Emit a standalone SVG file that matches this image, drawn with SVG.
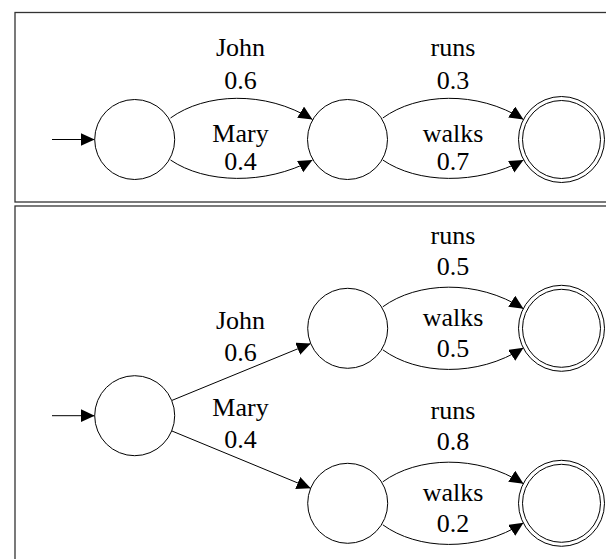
<svg xmlns="http://www.w3.org/2000/svg" width="606" height="559" viewBox="0 0 606 559">
<style>
.frame{fill:none;stroke:#333;stroke-width:1.3}
.st{fill:#fff;stroke:#000;stroke-width:1}
.e{fill:none;stroke:#000;stroke-width:1;marker-end:url(#ah)}
</style>
<defs>
<marker id="ah" markerUnits="userSpaceOnUse" markerWidth="16" markerHeight="15" refX="14" refY="6.5" orient="auto">
<path d="M0,0 L14,6.5 L0,13 z" fill="#000"/>
</marker>
</defs>
<rect width="606" height="559" fill="#fff"/>
<rect class="frame" x="15" y="12.5" width="620" height="189.5"/>
<rect class="frame" x="15" y="206" width="620" height="400"/>

<g id="connectors">
<path class="e" d="M52,139.5 L94.7,139.5"/>
<path class="e" d="M170.5,118 C205,93 265,90 312.5,119.5"/>
<path class="e" d="M170.5,160 C205,183.5 265,185.5 312.5,160"/>
<path class="e" d="M382.8,118 C417,93 477,90 523.5,119.5"/>
<path class="e" d="M382.8,160 C417,183.5 477,185.5 523.5,160"/>
<path class="e" d="M52,415.7 L94.7,415.7"/>
<path class="e" d="M171.7,400.5 L310.7,343.5"/>
<path class="e" d="M171.7,430.9 L310.7,488.3"/>
<path class="e" d="M382.8,306.8 C417,281.8 477,278.8 523.5,308.8"/>
<path class="e" d="M382.8,349.8 C417,374.8 477,377.8 523.5,347.8"/>
<path class="e" d="M382.8,481.8 C417,456.8 477,453.8 523.5,483.8"/>
<path class="e" d="M382.8,524.8 C417,549.8 477,552.8 523.5,522.8"/>
</g>

<g id="labels" font-family="Liberation Serif, Times New Roman, serif" font-size="26" text-anchor="middle" fill="#000">
<text x="240.5" y="56">John</text>
<text x="240.5" y="88.5">0.6</text>
<text x="240.5" y="141.5">Mary</text>
<text x="240.5" y="170">0.4</text>
<text x="453" y="56">runs</text>
<text x="453" y="88.5">0.3</text>
<text x="453" y="141.5">walks</text>
<text x="453" y="170">0.7</text>
<text x="240.5" y="328.5">John</text>
<text x="240.5" y="361">0.6</text>
<text x="240.5" y="416">Mary</text>
<text x="240.5" y="447.5">0.4</text>
<text x="453" y="243.5">runs</text>
<text x="453" y="275">0.5</text>
<text x="453" y="325.5">walks</text>
<text x="453" y="357">0.5</text>
<text x="453" y="418.5">runs</text>
<text x="453" y="450">0.8</text>
<text x="453" y="501">walks</text>
<text x="453" y="532">0.2</text>
</g>

<g id="t_q0"><circle class="st" cx="134.7" cy="139.5" r="40"/></g>
<g id="t_q1"><circle class="st" cx="347.5" cy="139.5" r="40"/></g>
<g id="t_q2"><circle class="st" cx="561.5" cy="139.5" r="43"/><circle class="st" cx="561.5" cy="139.5" r="39"/></g>
<g id="b_q0"><circle class="st" cx="134.7" cy="415.7" r="40"/></g>
<g id="b_q1"><circle class="st" cx="347.7" cy="328.3" r="40"/></g>
<g id="b_q2"><circle class="st" cx="561.5" cy="328.3" r="43"/><circle class="st" cx="561.5" cy="328.3" r="39"/></g>
<g id="b_q3"><circle class="st" cx="347.7" cy="503.3" r="40"/></g>
<g id="b_q4"><circle class="st" cx="561.5" cy="503.3" r="43"/><circle class="st" cx="561.5" cy="503.3" r="39"/></g>
</svg>
